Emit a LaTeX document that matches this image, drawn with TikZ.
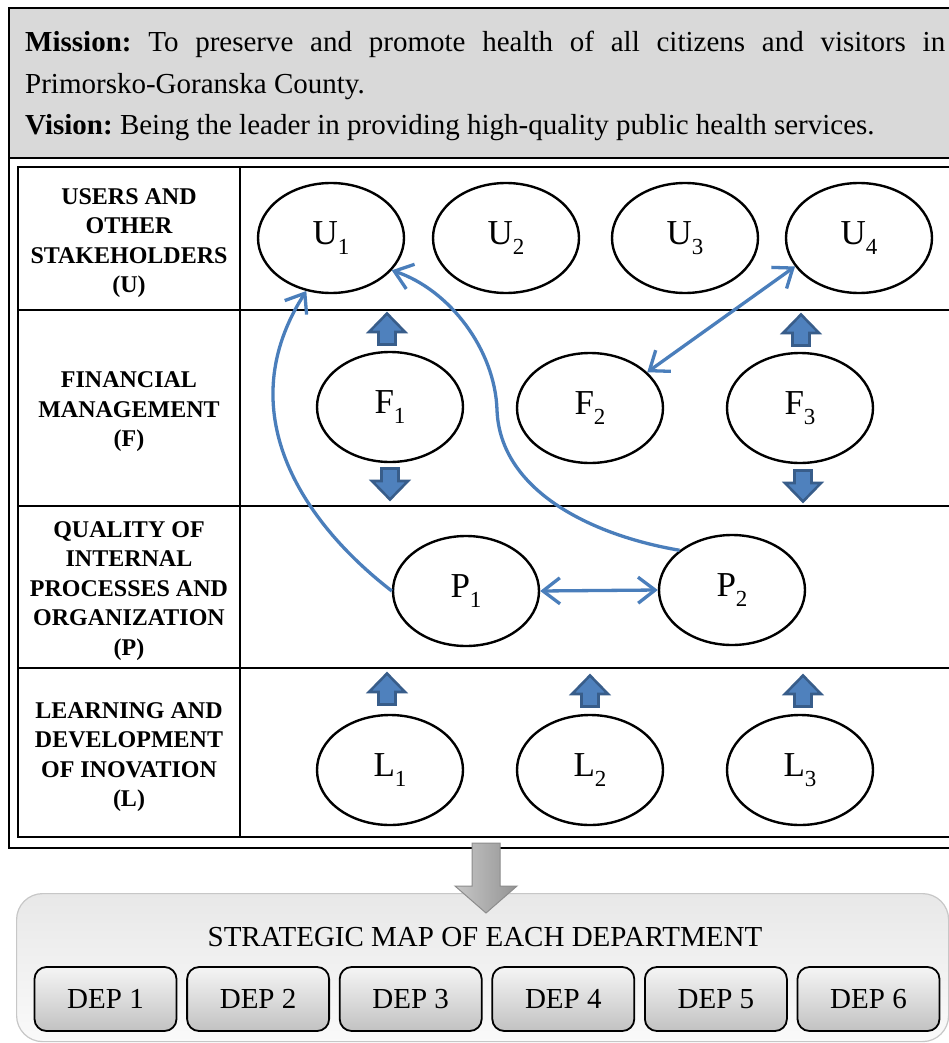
\documentclass[tikz,border=0pt]{standalone}
\usepackage{fontspec}
\setmainfont{Liberation Serif}
\usetikzlibrary{shapes.geometric,arrows.meta}
\definecolor{linkblue}{HTML}{4A7EBB}
\definecolor{blockfill}{HTML}{4F81BD}
\definecolor{blockline}{HTML}{385D8A}
\definecolor{missiongray}{HTML}{D9D9D9}
\newcommand{\lowidx}[1]{\raisebox{-0.3em}{\fontsize{23}{23}\selectfont #1}}
\hbadness=10000
\frenchspacing
\tikzset{
FRAME/.style ={draw=black,line width=2pt},
CELL/.style ={draw=black,line width=2.3pt},
HEAD/.style ={font=\bfseries\fontsize{24}{29.5}\selectfont, align=center, inner sep=0pt},
MISSION/.style ={font=\fontsize{29}{41.5}\selectfont, text width=920pt, align=justify, inner sep=0pt},
BUBBLE/.style ={draw=black, line width=2.4pt, ellipse, minimum width=146pt, minimum height=110pt, inner sep=0pt, font=\fontsize{35}{35}\selectfont},
LINK/.style ={draw=linkblue, line width=3.3pt},
BARB/.style ={-{Straight Barb[length=17pt,width=26pt]}},
BARBS/.style ={{Straight Barb[length=17pt,width=26pt]}-{Straight Barb[length=17pt,width=26pt]}},
BLOCK/.style ={fill=blockfill, draw=blockline, line width=2.6pt, line join=miter},
blkup/.pic ={\path[BLOCK] (0,-15.5) -- (18,3) -- (8.5,3) -- (8.5,15.5) -- (-8.5,15.5) -- (-8.5,3) -- (-18,3) -- cycle;},
PANEL/.style ={draw=black!22, line width=1.2pt, rounded corners=26pt, top color=black!9, bottom color=black!2},
GRAYARROW/.style ={draw=black!45, line width=1pt, left color=black!22, right color=black!42},
DEPBOX/.style ={draw=black, line width=1.8pt, rounded corners=12pt, top color=black!4, bottom color=black!24, minimum width=142pt, minimum height=64pt, inner sep=0pt, font=\fontsize{29}{29}\selectfont},
}

\begin{document}
\begin{tikzpicture}[x=1pt,y=-1pt]
	\useasboundingbox (0,0) rectangle (949,1043);
	\clip (0,0) rectangle (949,1043);
	\fill[white] (0,0) rectangle (949,1043);
	% mission and vision
	\path[FRAME, fill=white] (9,8) rectangle (975,848);
	\path[FRAME, fill=missiongray] (9,8) rectangle (975,158);
	\node[MISSION, anchor=north west] (mission) at (25,31) {\textbf{Mission:} To preserve and promote health of all citizens and visitors in\linebreak Primorsko-Goranska County.\\ \textbf{Vision:} Being the leader in providing high-quality public health services.};
	% table
	\path[CELL] (18,167) rectangle (975,837);
	\path[CELL] (240,167) -- (240,837);
	\foreach \y in {310,506,668}
		\path[CELL] (18,\y) -- (975,\y);
	\node[HEAD] (headU) at (129,243) {USERS AND\\OTHER\\STAKEHOLDERS\\(U)};
	\node[HEAD] (headF) at (129,412) {FINANCIAL\\MANAGEMENT\\(F)};
	\node[HEAD] (headP) at (129,591) {QUALITY OF\\INTERNAL\\PROCESSES AND\\ORGANIZATION\\(P)};
	\node[HEAD] (headL) at (129,757) {LEARNING AND\\DEVELOPMENT\\OF INOVATION\\(L)};
	% objectives
	\node[BUBBLE] (U1) at (331,238) {U\lowidx{1}};
	\node[BUBBLE] (U2) at (506,238) {U\lowidx{2}};
	\node[BUBBLE] (U3) at (685,238) {U\lowidx{3}};
	\node[BUBBLE] (U4) at (859,238) {U\lowidx{4}};
	\node[BUBBLE] (F1) at (390,407) {F\lowidx{1}};
	\node[BUBBLE] (F2) at (590,408) {F\lowidx{2}};
	\node[BUBBLE] (F3) at (800,408) {F\lowidx{3}};
	\node[BUBBLE] (P1) at (466,591) {P\lowidx{1}};
	\node[BUBBLE] (P2) at (732,590) {P\lowidx{2}};
	\node[BUBBLE] (L1) at (390,770) {L\lowidx{1}};
	\node[BUBBLE] (L2) at (590,770) {L\lowidx{2}};
	\node[BUBBLE] (L3) at (800,770) {L\lowidx{3}};
	% block arrows
	\pic at (387,329) {blkup};
	\pic at (801,330) {blkup};
	\pic[rotate=180] at (390,484) {blkup};
	\pic[rotate=180] at (803,486) {blkup};
	\pic at (387,689) {blkup};
	\pic at (590,691) {blkup};
	\pic at (803,691) {blkup};
	% links
	\path[LINK,BARB] (P1.west) .. controls (300,520) and (230,410) .. (U1.245);
	\path[LINK,BARB] (P2.north west) .. controls (590,535) and (500,490) .. (497,410) .. controls (495,350) and (450,290) .. (U1.-28);
	\path[LINK,BARBS] (F2.32) -- (U4.204);
	\path[LINK,BARBS] (P1.east) -- (P2.west);
	% departments
	\node[PANEL, anchor=north west, minimum width=932pt, minimum height=148pt] (panel) at (16,893) {};
	\path[GRAYARROW] (472,843) -- (500,843) -- (500,886) -- (517,886) -- (486,913) -- (455,886) -- (472,886) -- cycle;
	\node[font=\fontsize{29}{29}\selectfont, inner sep=0pt] (maptitle) at (485,937) {STRATEGIC MAP OF EACH DEPARTMENT};
	\node[DEPBOX] (dep1) at (105.5,999) {DEP 1};
	\node[DEPBOX] (dep2) at (258.1,999) {DEP 2};
	\node[DEPBOX] (dep3) at (410.7,999) {DEP 3};
	\node[DEPBOX] (dep4) at (563.3,999) {DEP 4};
	\node[DEPBOX] (dep5) at (715.9,999) {DEP 5};
	\node[DEPBOX] (dep6) at (868.5,999) {DEP 6};
\end{tikzpicture}
\end{document}
